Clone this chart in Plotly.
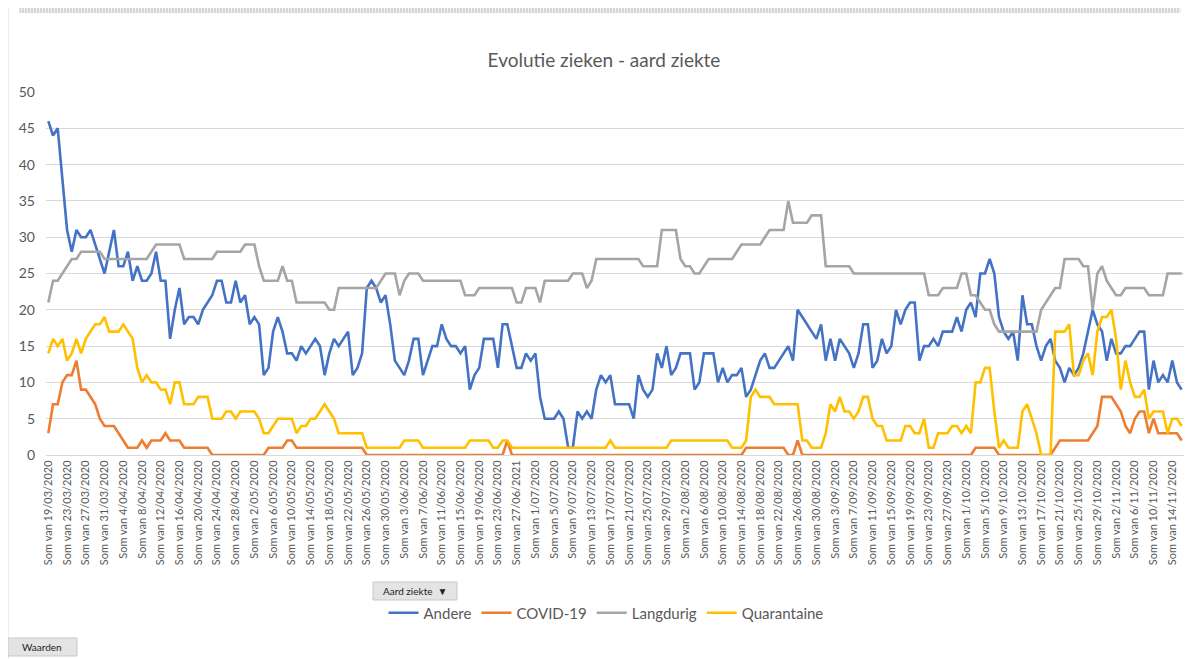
import plotly.graph_objects as go
from datetime import date, timedelta

# ---- data (daily values) ----
andere = [
    46, 44, 45, 38, 31, 28, 31, 30, 30, 31,
    29, 27, 25, 28, 31, 26, 26, 28, 24, 26,
    24, 24, 25, 28, 24, 24, 16, 20, 23, 18,
    19, 19, 18, 20, 21, 22, 24, 24, 21, 21,
    24, 21, 22, 18, 19, 18, 11, 12, 17, 19,
    17, 14, 14, 13, 15, 14, 15, 16, 15, 11,
    14, 16, 15, 16, 17, 11, 12, 14, 23, 24,
    23, 21, 22, 18, 13, 12, 11, 13, 16, 16,
    11, 13, 15, 15, 18, 16, 15, 15, 14, 15,
    9, 11, 12, 16, 16, 16, 12, 18, 18, 15,
    12, 12, 14, 13, 14, 8, 5, 5, 5, 6,
    5, 1, 1, 6, 5, 6, 5, 9, 11, 10,
    11, 7, 7, 7, 7, 5, 11, 9, 8, 9,
    14, 12, 15, 11, 12, 14, 14, 14, 9, 10,
    14, 14, 14, 10, 12, 10, 11, 11, 12, 8,
    9, 11, 13, 14, 12, 12, 13, 14, 15, 13,
    20, 19, 18, 17, 16, 18, 13, 16, 13, 16,
    15, 14, 12, 14, 18, 18, 12, 13, 16, 14,
    15, 20, 18, 20, 21, 21, 13, 15, 15, 16,
    15, 17, 17, 17, 19, 17, 20, 21, 19, 25,
    25, 27, 25, 19, 17, 16, 17, 13, 22, 18,
    18, 15, 13, 15, 16, 13, 12, 10, 12, 11,
    12, 14, 17, 20, 18, 17, 13, 16, 14, 14,
    15, 15, 16, 17, 17, 9, 13, 10, 11, 10,
    13, 10, 9,
]

covid = [
    3, 7, 7, 10, 11, 11, 13, 9, 9, 8,
    7, 5, 4, 4, 4, 3, 2, 1, 1, 1,
    2, 1, 2, 2, 2, 3, 2, 2, 2, 1,
    1, 1, 1, 1, 1, 0, 0, 0, 0, 0,
    0, 0, 0, 0, 0, 0, 0, 1, 1, 1,
    1, 2, 2, 1, 1, 1, 1, 1, 1, 1,
    1, 1, 1, 1, 1, 1, 1, 1, 0, 0,
    0, 0, 0, 0, 0, 0, 0, 0, 0, 0,
    0, 0, 0, 0, 0, 0, 0, 0, 0, 0,
    0, 0, 0, 0, 0, 0, 0, 0, 2, 0,
    0, 0, 0, 0, 0, 0, 0, 0, 0, 0,
    0, 0, 0, 0, 0, 0, 0, 0, 0, 0,
    0, 0, 0, 0, 0, 0, 0, 0, 0, 0,
    0, 0, 0, 0, 0, 0, 0, 0, 0, 0,
    0, 0, 0, 0, 0, 0, 0, 0, 0, 1,
    1, 1, 1, 1, 1, 1, 1, 1, 0, 0,
    2, 0, 0, 0, 0, 0, 0, 0, 0, 0,
    0, 0, 0, 0, 0, 0, 0, 0, 0, 0,
    0, 0, 0, 0, 0, 0, 0, 0, 0, 0,
    0, 0, 0, 0, 0, 0, 0, 0, 1, 1,
    1, 1, 1, 0, 0, 0, 0, 0, 0, 0,
    0, 0, 0, 0, 0, 1, 2, 2, 2, 2,
    2, 2, 2, 3, 4, 8, 8, 8, 7, 6,
    4, 3, 5, 6, 6, 3, 5, 3, 3, 3,
    3, 3, 2,
]

langdurig = [
    21, 24, 24, 25, 26, 27, 27, 28, 28, 28,
    28, 28, 27, 27, 27, 27, 27, 27, 27, 27,
    27, 27, 28, 29, 29, 29, 29, 29, 29, 27,
    27, 27, 27, 27, 27, 27, 28, 28, 28, 28,
    28, 28, 29, 29, 29, 26, 24, 24, 24, 24,
    26, 24, 24, 21, 21, 21, 21, 21, 21, 21,
    20, 20, 23, 23, 23, 23, 23, 23, 23, 23,
    23, 24, 25, 25, 25, 22, 24, 25, 25, 25,
    24, 24, 24, 24, 24, 24, 24, 24, 24, 22,
    22, 22, 23, 23, 23, 23, 23, 23, 23, 23,
    21, 21, 23, 23, 23, 21, 24, 24, 24, 24,
    24, 24, 25, 25, 25, 23, 24, 27, 27, 27,
    27, 27, 27, 27, 27, 27, 27, 26, 26, 26,
    26, 31, 31, 31, 31, 27, 26, 26, 25, 25,
    26, 27, 27, 27, 27, 27, 27, 28, 29, 29,
    29, 29, 29, 30, 31, 31, 31, 31, 35, 32,
    32, 32, 32, 33, 33, 33, 26, 26, 26, 26,
    26, 26, 25, 25, 25, 25, 25, 25, 25, 25,
    25, 25, 25, 25, 25, 25, 25, 25, 22, 22,
    22, 23, 23, 23, 23, 25, 25, 22, 22, 21,
    20, 20, 18, 17, 17, 17, 17, 17, 17, 17,
    17, 17, 20, 21, 22, 23, 23, 27, 27, 27,
    27, 26, 26, 20, 25, 26, 24, 23, 22, 22,
    23, 23, 23, 23, 23, 22, 22, 22, 22, 25,
    25, 25, 25,
]

quarantaine = [
    14, 16, 15, 16, 13, 14, 16, 14, 16, 17,
    18, 18, 19, 17, 17, 17, 18, 17, 16, 12,
    10, 11, 10, 10, 9, 9, 7, 10, 10, 7,
    7, 7, 8, 8, 8, 5, 5, 5, 6, 6,
    5, 6, 6, 6, 6, 5, 3, 3, 4, 5,
    5, 5, 5, 3, 4, 4, 5, 5, 6, 7,
    6, 5, 3, 3, 3, 3, 3, 3, 1, 1,
    1, 1, 1, 1, 1, 1, 2, 2, 2, 2,
    1, 1, 1, 1, 1, 1, 1, 1, 1, 1,
    2, 2, 2, 2, 2, 1, 1, 2, 2, 1,
    1, 1, 1, 1, 1, 1, 1, 1, 1, 1,
    1, 1, 1, 1, 1, 1, 1, 1, 1, 1,
    2, 1, 1, 1, 1, 1, 1, 1, 1, 1,
    1, 1, 1, 2, 2, 2, 2, 2, 2, 2,
    2, 2, 2, 2, 2, 2, 1, 1, 1, 2,
    8, 9, 8, 8, 8, 7, 7, 7, 7, 7,
    7, 2, 2, 1, 1, 1, 3, 7, 6, 8,
    6, 6, 5, 6, 8, 8, 5, 4, 4, 2,
    2, 2, 2, 4, 4, 3, 3, 5, 1, 1,
    3, 3, 3, 4, 4, 3, 4, 3, 10, 10,
    12, 12, 6, 1, 2, 1, 1, 1, 6, 7,
    5, 3, 0, 0, 0, 17, 17, 17, 18, 11,
    11, 13, 14, 11, 17, 19, 19, 20, 16, 9,
    13, 10, 8, 8, 9, 5, 6, 6, 6, 3,
    5, 5, 4,
]

# category labels: one pivot field per day ("Som van d/mm/yyyy")
first_day = date(2020, 3, 19)
categories = []
for k in range(len(andere)):
    d = first_day + timedelta(days=k)
    categories.append(f"Som van {d.day}/{d.month:02d}/{d.year}")
categories[100] = "Som van 27/06/2021"   # label as it appears in the source
tick_labels = categories[::4]

series_names = ["Andere", "COVID-19", "Langdurig", "Quarantaine"]
series_values = [andere, covid, langdurig, quarantaine]
series_colors = ["#4472C4", "#ED7D31", "#A5A5A5", "#FFC000"]

FONT = "Lato, 'Liberation Sans', sans-serif"
GREY_TXT = "#595959"

fig = go.Figure()
for name, vals, col in zip(series_names, series_values, series_colors):
    fig.add_trace(go.Scatter(
        x=categories, y=vals, name=name, mode="lines",
        line=dict(color=col, width=2.6), hoverinfo="x+y+name",
    ))

# page body has an 8px margin: the figure starts at screen (8, 8)
OFF = 8
W, H = 1194 - OFF, 659 - OFF
L = 46 - OFF
R = W - (1184 - OFF)
T = 92 - OFF
B = H - (455 - OFF)
pw, ph = W - L - R, H - T - B


def px_x(p):
    """screen x (reference pixels) -> paper x"""
    return (p - OFF - L) / pw


def px_y(p):
    """screen y (reference pixels) -> paper y"""
    return (H - B - (p - OFF)) / ph


fig.update_layout(
    width=W, height=H,
    margin=dict(l=L, r=R, t=T, b=B, pad=0),
    paper_bgcolor="white", plot_bgcolor="white",
    font=dict(family=FONT, color=GREY_TXT),
    title=dict(text="Evolutie zieken - aard ziekte", x=px_x(604), xanchor="center",
               xref="paper", y=1 - (60 - OFF) / H, yanchor="middle",
               font=dict(size=19, color=GREY_TXT, family=FONT)),
    showlegend=True,
    legend=dict(orientation="h", x=px_x(606), xanchor="center",
                y=px_y(613), yanchor="middle",
                font=dict(size=15, color=GREY_TXT, family=FONT),
                itemwidth=30, bgcolor="rgba(0,0,0,0)"),
    xaxis=dict(type="category", categoryorder="array", categoryarray=categories,
               range=[-0.5, len(categories) - 0.5],
               tickmode="array", tickvals=tick_labels, ticktext=tick_labels,
               tickangle=-90, tickfont=dict(size=11, color=GREY_TXT, family=FONT),
               showgrid=False, showline=True, linecolor="#D9D9D9", linewidth=1,
               ticks="", zeroline=False),
    yaxis=dict(range=[0, 50], dtick=5, tick0=0,
               tickfont=dict(size=14, color=GREY_TXT, family=FONT),
               showgrid=True, gridcolor="#D9D9D9", gridwidth=1,
               zeroline=False, showline=False, ticks="", ticklabelstandoff=10),
)

# hatched pivot-field strip at the top: one path of thin vertical strokes
hatch = []
xs = 20
while xs <= 1180:
    hatch.append(f"M{px_x(xs):.5f},{px_y(13):.5f} L{px_x(xs):.5f},{px_y(3):.5f}")
    xs += 3

shapes = [
    dict(type="rect", xref="paper", yref="paper",
         x0=px_x(20), x1=px_x(1181), y0=px_y(13), y1=px_y(3),
         fillcolor="#F0F0F0", line=dict(width=0), layer="below"),
    dict(type="path", xref="paper", yref="paper", path=" ".join(hatch),
         line=dict(color="#BDBDBD", width=1)),
    # chart area left border
    dict(type="line", xref="paper", yref="paper",
         x0=px_x(8), x1=px_x(8), y0=px_y(OFF), y1=px_y(659),
         line=dict(color="#D9D9D9", width=1)),
    # "Aard ziekte" button
    dict(type="rect", xref="paper", yref="paper",
         x0=px_x(373), x1=px_x(457), y0=px_y(600), y1=px_y(582),
         fillcolor="#E4E4E4", line=dict(color="#C8C8C8", width=1)),
    # "Waarden" button
    dict(type="rect", xref="paper", yref="paper",
         x0=px_x(8), x1=px_x(77), y0=px_y(656), y1=px_y(638),
         fillcolor="#E4E4E4", line=dict(color="#C8C8C8", width=1)),
]
fig.update_layout(shapes=shapes)

fig.add_annotation(text="Aard ziekte  \u25BC", xref="paper", yref="paper",
                   x=px_x(415), y=px_y(591), xanchor="center", yanchor="middle",
                   showarrow=False, font=dict(size=10, color="#222222", family=FONT))
fig.add_annotation(text="Waarden", xref="paper", yref="paper",
                   x=px_x(42), y=px_y(647), xanchor="center", yanchor="middle",
                   showarrow=False, font=dict(size=10, color="#222222", family=FONT))

fig.write_html("out.html")
